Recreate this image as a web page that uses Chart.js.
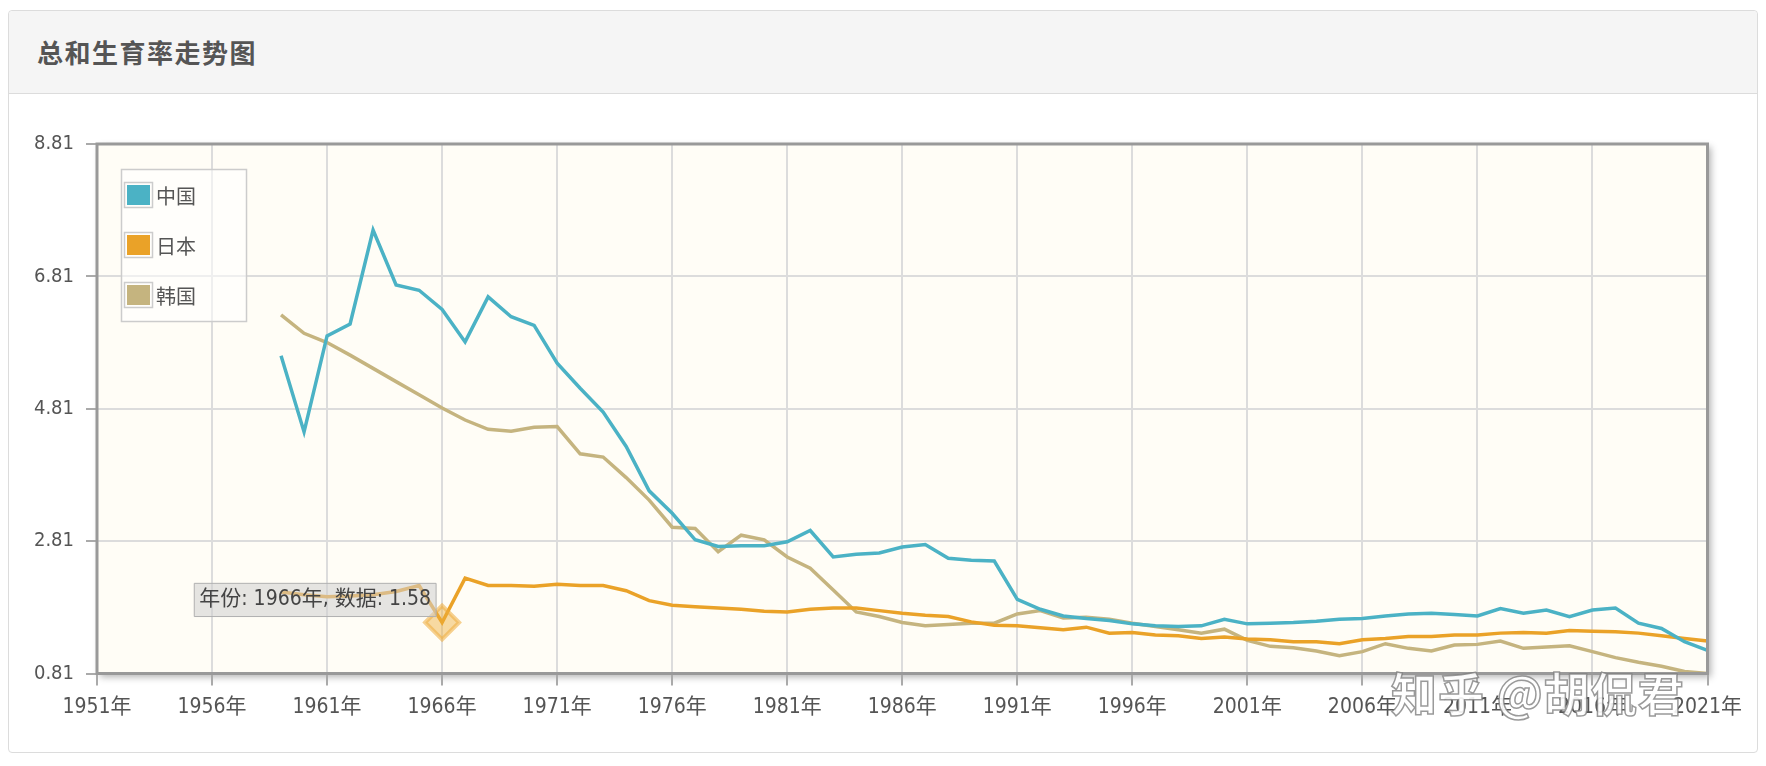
<!DOCTYPE html>
<html lang="zh-CN">
<head>
<meta charset="utf-8">
<title>总和生育率走势图</title>
<script src="https://cdn.jsdelivr.net/npm/chart.js@4.4.1/dist/chart.umd.min.js"></script>
<style>
  html, body { margin: 0; padding: 0; background: #fff; }
  body { width: 1766px; height: 766px; position: relative; overflow: hidden; }
  .panel {
    position: absolute; left: 8px; top: 10px; width: 1748px; height: 741px;
    border: 1px solid #dcdcdc; border-radius: 4px; background: #fff;
  }
  .panel-head {
    height: 82px; background: #f5f5f5; border-bottom: 1px solid #dcdcdc;
    border-radius: 4px 4px 0 0;
  }
  .panel-head h3 {
    margin: 0; padding-left: 28px;
    font: 700 26px 'Noto Sans CJK SC', sans-serif; line-height: 82px;
    letter-spacing: 1.5px; color: #555;
  }
  .chart-box { position: absolute; left: 0; top: 0; width: 1766px; height: 766px; }
  .watermark {
    position: absolute; left: 1391px; top: 658px; white-space: nowrap;
    font: 700 46px 'Noto Sans CJK SC', sans-serif; color: rgba(255,255,255,0.9);
    -webkit-text-stroke: 1.5px rgba(120,120,120,0.75); letter-spacing: 1px;
  }
</style>
</head>
<body>
<div class="panel">
  <div class="panel-head"><h3>总和生育率走势图</h3></div>
</div>
<div class="chart-box"><canvas id="tfrChart"></canvas></div>
<div class="watermark">知乎 @胡侃君</div>

<script>
/*******************************************************
 * DADOS
 *******************************************************/
const years = [
  1959, 1960, 1961, 1962, 1963, 1964, 1965, 1966, 1967, 1968,
  1969, 1970, 1971, 1972, 1973, 1974, 1975, 1976, 1977, 1978,
  1979, 1980, 1981, 1982, 1983, 1984, 1985, 1986, 1987, 1988,
  1989, 1990, 1991, 1992, 1993, 1994, 1995, 1996, 1997, 1998,
  1999, 2000, 2001, 2002, 2003, 2004, 2005, 2006, 2007, 2008,
  2009, 2010, 2011, 2012, 2013, 2014, 2015, 2016, 2017, 2018,
  2019, 2020, 2021
];

const chinaTfr = [
  5.61, 4.46, 5.91, 6.09, 7.51, 6.68, 6.60, 6.31, 5.82, 6.50,
  6.20, 6.07, 5.50, 5.12, 4.76, 4.24, 3.57, 3.23, 2.83, 2.73,
  2.74, 2.74, 2.80, 2.97, 2.57, 2.61, 2.63, 2.72, 2.76, 2.55,
  2.52, 2.51, 1.93, 1.78, 1.68, 1.64, 1.61, 1.56, 1.53, 1.52,
  1.53, 1.63, 1.56, 1.57, 1.58, 1.60, 1.63, 1.64, 1.68, 1.71,
  1.72, 1.70, 1.68, 1.79, 1.72, 1.77, 1.67, 1.77, 1.80, 1.57,
  1.49, 1.29, 1.16
];

const japanTfr = [
  2.04, 2.00, 1.97, 1.98, 2.00, 2.05, 2.14, 1.58, 2.25, 2.14,
  2.14, 2.13, 2.16, 2.14, 2.14, 2.06, 1.91, 1.84, 1.82, 1.80,
  1.78, 1.75, 1.74, 1.78, 1.80, 1.80, 1.76, 1.72, 1.69, 1.67,
  1.59, 1.54, 1.53, 1.50, 1.47, 1.51, 1.42, 1.43, 1.39, 1.38,
  1.34, 1.36, 1.33, 1.32, 1.29, 1.29, 1.26, 1.32, 1.34, 1.37,
  1.37, 1.39, 1.39, 1.42, 1.43, 1.42, 1.46, 1.45, 1.44, 1.42,
  1.38, 1.34, 1.30
];

const koreaTfr = [
  6.23, 5.95, 5.81, 5.62, 5.42, 5.22, 5.02, 4.82, 4.64, 4.50,
  4.47, 4.53, 4.54, 4.13, 4.08, 3.77, 3.43, 3.02, 3.00, 2.65,
  2.90, 2.83, 2.57, 2.40, 2.07, 1.74, 1.67, 1.58, 1.53, 1.55,
  1.57, 1.57, 1.71, 1.76, 1.65, 1.66, 1.63, 1.57, 1.52, 1.47,
  1.42, 1.48, 1.31, 1.22, 1.20, 1.15, 1.08, 1.14, 1.26, 1.19,
  1.15, 1.24, 1.25, 1.30, 1.19, 1.21, 1.23, 1.14, 1.05, 0.98,
  0.92, 0.84, 0.81
];

const seriesNames = ['中国', '日本', '韩国'];
const seriesColors = ['#4bb2c5', '#eaa228', '#c5b47f'];

const xTicks = [1951, 1956, 1961, 1966, 1971, 1976, 1981, 1986, 1991, 1996, 2001, 2006, 2011, 2016, 2021];
const yTicks = [0.81, 2.81, 4.81, 6.81, 8.81];

// ponto destacado com tooltip (日本, 1966)
const highlightSeries = 1;
const highlightYear = 1966;

/*******************************************************
 * PLUGINS
 *******************************************************/
const tickFont = "'DejaVu Sans Condensed', 'Noto Sans CJK SC', sans-serif";

const plotFrame = {
  id: 'plotFrame',
  beforeDraw(chart) {
    const { ctx, chartArea: a } = chart;
    ctx.save();
    ctx.shadowColor = 'rgba(0,0,0,0.3)';
    ctx.shadowBlur = 7;
    ctx.shadowOffsetX = 3;
    ctx.shadowOffsetY = 3;
    ctx.fillStyle = '#fffdf6';
    ctx.fillRect(a.left, a.top, a.right - a.left, a.bottom - a.top);
    ctx.restore();
  },
  afterDatasetsDraw(chart) {
    const { ctx, chartArea: a } = chart;
    ctx.save();
    ctx.strokeStyle = '#999999';
    ctx.lineWidth = 3;
    ctx.strokeRect(a.left, a.top, a.right - a.left, a.bottom - a.top);
    ctx.restore();
  }
};

const insideLegend = {
  id: 'insideLegend',
  afterDatasetsDraw(chart) {
    const { ctx, chartArea: a } = chart;
    const x0 = a.left + 24, y0 = a.top + 25;
    ctx.save();
    ctx.fillStyle = 'rgba(255,255,255,0.55)';
    ctx.fillRect(x0, y0, 125, 152);
    ctx.strokeStyle = '#cccccc';
    ctx.lineWidth = 1.5;
    ctx.strokeRect(x0 + 0.5, y0 + 0.5, 125, 152);
    ctx.font = "20px 'Noto Sans CJK SC', sans-serif";
    ctx.textBaseline = 'middle';
    chart.data.datasets.forEach((ds, i) => {
      const cy = a.top + 51 + i * 50;
      ctx.lineWidth = 1.5;
      ctx.strokeStyle = '#cccccc';
      ctx.strokeRect(a.left + 27.5, cy - 12.5, 28, 25);
      ctx.fillStyle = ds.borderColor;
      ctx.fillRect(a.left + 30, cy - 10, 23, 20);
      ctx.fillStyle = '#555';
      ctx.fillText(ds.label, a.left + 59, cy + 1);
    });
    ctx.restore();
  }
};

if (Chart.Tooltip && Chart.Tooltip.positioners) {
  Chart.Tooltip.positioners.corner = function (items) {
    if (!items.length) return false;
    const el = items[0].element;
    return { x: el.x - 6, y: el.y - 6 };
  };
}

/*******************************************************
 * GRÁFICO
 *******************************************************/
function makeDataset(i, values) {
  const isHighlight = i === highlightSeries;
  return {
    label: seriesNames[i],
    data: years.map((y, k) => ({ x: y, y: values[k] })),
    borderColor: seriesColors[i],
    backgroundColor: seriesColors[i],
    borderWidth: 3.5,
    tension: 0,
    pointRadius: 0,
    pointHoverRadius: isHighlight ? 17 : 0,
    pointStyle: 'rectRot',
    pointHoverBackgroundColor: 'rgba(238,172,58,0.45)',
    pointHoverBorderColor: 'rgba(238,172,58,0.55)',
    pointHoverBorderWidth: 4
  };
}

function init() {
  const ctx = document.getElementById('tfrChart');
  const chart = new Chart(ctx, {
    type: 'line',
    data: {
      datasets: [
        makeDataset(0, chinaTfr),
        makeDataset(1, japanTfr),
        makeDataset(2, koreaTfr)
      ]
    },
    options: {
      responsive: true,
      maintainAspectRatio: false,
      animation: false,
      events: [],
      layout: { padding: { top: 144, right: 58.5, bottom: 0, left: 0 } },
      plugins: {
        legend: { display: false },
        title: { display: false },
        tooltip: {
          enabled: true,
          position: Chart.Tooltip && Chart.Tooltip.positioners.corner ? 'corner' : 'nearest',
          xAlign: 'right',
          yAlign: 'bottom',
          caretSize: 0,
          caretPadding: 0,
          cornerRadius: 0,
          backgroundColor: 'rgba(208,208,208,0.55)',
          borderColor: '#b0b0b0',
          borderWidth: 1,
          bodyColor: '#444',
          bodyFont: { family: tickFont, size: 21 },
          padding: { x: 5, y: 4 },
          displayColors: false,
          callbacks: {
            title: () => '',
            label: c => `年份: ${c.raw.x}年, 数据: ${c.raw.y.toFixed(2)}`
          }
        }
      },
      scales: {
        x: {
          type: 'linear',
          min: xTicks[0],
          max: xTicks[xTicks.length - 1],
          afterBuildTicks: s => { s.ticks = xTicks.map(v => ({ value: v })); },
          afterFit: s => { s.height = 92.5; },
          border: { display: false },
          grid: { color: '#dcdcdc', lineWidth: 2, tickLength: 12, tickColor: '#aaaaaa', tickWidth: 2 },
          ticks: {
            padding: 9, color: '#555', autoSkip: false, maxRotation: 0,
            font: { family: tickFont, size: 21 },
            callback: v => v + '年'
          }
        },
        y: {
          min: yTicks[0],
          max: yTicks[yTicks.length - 1],
          afterBuildTicks: s => { s.ticks = yTicks.map(v => ({ value: v })); },
          afterFit: s => { s.width = 97; },
          border: { display: false },
          grid: { color: '#dcdcdc', lineWidth: 2, tickLength: 11, tickColor: '#aaaaaa', tickWidth: 2 },
          ticks: {
            padding: 12, color: '#555',
            font: { family: tickFont, size: 20 },
            callback: v => v.toFixed(2)
          }
        }
      }
    },
    plugins: [plotFrame, insideLegend]
  });

  const active = [{ datasetIndex: highlightSeries, index: years.indexOf(highlightYear) }];
  chart.setActiveElements(active);
  chart.tooltip.setActiveElements(active, { x: 0, y: 0 });
  chart.update();
}

window.onload = init;
</script>
</body>
</html>
